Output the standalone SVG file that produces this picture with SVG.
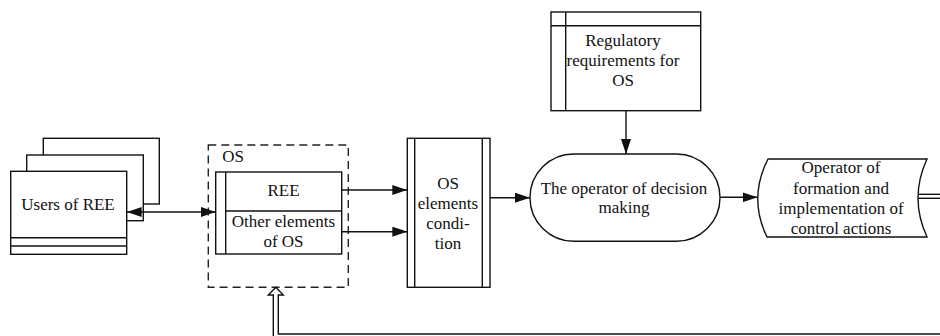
<svg xmlns="http://www.w3.org/2000/svg" width="940" height="336" viewBox="0 0 940 336">
  <defs>
    <style>
      .s { fill: #fff; stroke: #111; stroke-width: 1.4; }
      .ln { fill: none; stroke: #111; stroke-width: 1.4; }
      .dash { fill: none; stroke: #222; stroke-width: 1.4; stroke-dasharray: 8 5; }
      .t { font-family: 'Times New Roman', Times, 'Liberation Serif', serif; font-size: 17px; fill: #111; text-anchor: middle; }
    </style>
    <marker id="arr" viewBox="0 0 15 10" refX="15" refY="5" markerWidth="15" markerHeight="10" markerUnits="userSpaceOnUse" orient="auto-start-reverse">
      <path d="M0,0 L15,5 L0,10 Z" fill="#111"/>
    </marker>
  </defs>
  <rect width="940" height="336" fill="#fff"/>

  <!-- stacked document: users -->
  <g id="users">
    <rect class="s" x="43.3" y="138.3" width="116" height="65.7"/>
    <rect class="s" x="26.7" y="155" width="116.6" height="65.7"/>
    <rect class="s" x="10.7" y="171.3" width="116" height="83"/>
    <line class="ln" x1="10.7" y1="237.7" x2="126.7" y2="237.7"/>
    <line class="ln" x1="10.7" y1="246" x2="126.7" y2="246"/>
    <text class="t" x="68" y="210">Users of REE</text>
  </g>

  <!-- object of study container -->
  <g id="os">
    <rect class="dash" x="208.3" y="145" width="140" height="142.3"/>
    <text class="t" x="233" y="162">OS</text>
  </g>

  <g id="os-parts">
    <rect class="s" x="215.7" y="172" width="126" height="82"/>
    <line class="ln" x1="225.7" y1="172" x2="225.7" y2="254"/>
    <line class="ln" x1="225.7" y1="211" x2="341.7" y2="211"/>
    <text class="t" x="283.5" y="196">REE</text>
    <text class="t" x="283.5" y="227">Other elements</text>
    <text class="t" x="283.5" y="246.5">of OS</text>
  </g>

  <g id="condition">
    <rect class="s" x="407.3" y="138.3" width="82.7" height="149"/>
    <line class="ln" x1="414.7" y1="138.3" x2="414.7" y2="287.3"/>
    <line class="ln" x1="482.3" y1="138.3" x2="482.3" y2="287.3"/>
    <text class="t" x="448" y="188.5">OS</text>
    <text class="t" x="448" y="208.5">elements</text>
    <text class="t" x="448" y="228.5">condi-</text>
    <text class="t" x="448" y="248.5">tion</text>
  </g>

  <g id="regulatory">
    <rect class="s" x="551" y="12" width="149.7" height="98.7"/>
    <line class="ln" x1="551" y1="25.7" x2="700.7" y2="25.7"/>
    <line class="ln" x1="565.7" y1="12" x2="565.7" y2="110.7"/>
    <text class="t" x="623" y="46">Regulatory</text>
    <text class="t" x="623" y="66">requirements for</text>
    <text class="t" x="623" y="86">OS</text>
  </g>

  <g id="decision">
    <rect class="s" x="530" y="154" width="190" height="87.3" rx="43.6" ry="43.6"/>
    <text class="t" x="624" y="193.5">The operator of decision</text>
    <text class="t" x="624" y="213">making</text>
  </g>

  <g id="control">
    <path class="s" d="M768,159 L927,159 Q909,198 927,237 L767,237 Q748,198 768,159 Z"/>
    <text class="t" x="841" y="173">Operator of</text>
    <text class="t" x="841" y="193.5">formation and</text>
    <text class="t" x="841" y="214">implementation of</text>
    <text class="t" x="841" y="234">control actions</text>
  </g>

  <g id="connectors">
    <line class="ln" x1="126.7" y1="212" x2="215.7" y2="212" marker-start="url(#arr)" marker-end="url(#arr)"/>
    <line class="ln" x1="341.7" y1="190" x2="407.3" y2="190" marker-end="url(#arr)"/>
    <line class="ln" x1="341.7" y1="231.7" x2="407.3" y2="231.7" marker-end="url(#arr)"/>
    <line class="ln" x1="490" y1="197.7" x2="530" y2="197.7" marker-end="url(#arr)"/>
    <line class="ln" x1="626" y1="110.7" x2="626" y2="154" marker-end="url(#arr)"/>
    <line class="ln" x1="720" y1="197.3" x2="757.5" y2="197.3" marker-end="url(#arr)"/>
    <!-- double feedback line leaving the control operator -->
    <line class="ln" x1="918" y1="194.3" x2="940" y2="194.3"/>
    <line class="ln" x1="918" y1="198.3" x2="940" y2="198.3"/>
    <!-- double feedback line returning to the OS, hollow head -->
    <path class="s" d="M273.3,340 L273.3,295 L268.3,295 L275.8,287.3 L283.3,295 L278.3,295 L278.3,334 L942,334 L942,340 Z"/>
  </g>
</svg>
